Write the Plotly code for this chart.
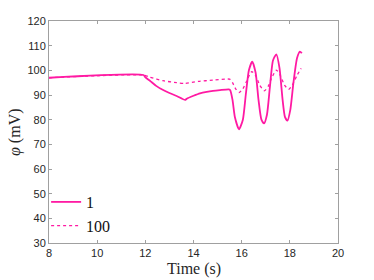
import plotly.graph_objects as go

# Series "1" (solid)
t1 = [8.0, 11.92, 12.0, 12.19, 12.45, 12.74, 13.0, 13.3, 13.65, 13.72, 14.0, 14.27, 14.55, 14.81, 15.1, 15.47,
      15.52, 15.62, 15.72, 15.89, 16.05, 16.17, 16.30, 16.44, 16.58, 16.70, 16.82, 16.93, 17.05, 17.17, 17.30,
      17.44, 17.57, 17.70, 17.80, 17.90, 18.02, 18.15, 18.30, 18.42, 18.50]
v1 = [97.0, 98.1, 97.2, 95.8, 93.7, 92.0, 90.8, 89.6, 88.0, 88.5, 89.7, 90.7, 91.3, 91.7, 92.0, 92.3,
      92.0, 88.0, 81.0, 76.1, 80.0, 90.0, 100.0, 103.5, 99.0, 88.0, 80.0, 78.5, 82.0, 93.0, 104.0,
      106.5, 101.0, 88.0, 81.0, 79.6, 84.0, 95.0, 105.0, 107.6, 107.0]

# Series "100" (dotted)
t100 = [8.0, 11.92, 12.19, 12.74, 13.3, 13.65, 14.2, 14.8, 15.5, 15.62, 15.75, 15.89, 16.05, 16.2, 16.42,
        16.6, 16.75, 16.94, 17.1, 17.25, 17.44, 17.6, 17.78, 17.95, 18.1, 18.3, 18.47]
v100 = [97.0, 98.1, 97.2, 95.8, 95.0, 94.7, 95.5, 96.0, 96.4, 95.0, 92.5, 91.0, 92.5, 95.5, 99.5,
        97.5, 94.0, 91.7, 93.5, 97.0, 100.1, 98.0, 94.0, 92.3, 94.0, 98.0, 100.8]

names = ["1", "100"]
x_ticks = [8, 10, 12, 14, 16, 18, 20]
y_ticks = [30, 40, 50, 60, 70, 80, 90, 100, 110, 120]
x_title = "Time (s)"
y_title = "<i>φ</i> (mV)"

color = "#FF1AA3"
serif = "Liberation Serif, Times New Roman, serif"
fig = go.Figure()
fig.add_trace(go.Scatter(x=t1, y=v1, mode="lines", name=names[0],
                         line=dict(color=color, width=1.8, shape="spline", smoothing=0.6)))
fig.add_trace(go.Scatter(x=t100, y=v100, mode="lines", name=names[1],
                         line=dict(color=color, width=1.3, dash="dot", shape="spline", smoothing=0.6)))

axis_common = dict(showline=True, linecolor="#A0A0A0", linewidth=1, mirror="ticks",
                   ticks="inside", ticklen=3, tickcolor="#A0A0A0", showgrid=False, zeroline=False,
                   automargin=False,
                   tickfont=dict(family="Liberation Sans, Arial", size=11, color="#262626"))
fig.update_layout(
    width=374, height=280,
    margin=dict(l=49, r=36, t=21, b=37),
    paper_bgcolor="white", plot_bgcolor="white",
    xaxis=dict(range=[8, 20], tickvals=x_ticks, **axis_common),
    yaxis=dict(range=[30, 120], tickvals=y_ticks, **axis_common),
    legend=dict(x=-0.01, y=0.0, xanchor="left", yanchor="bottom", bgcolor="rgba(0,0,0,0)",
                font=dict(family=serif, size=16, color="#111111"), itemwidth=30,
                tracegroupgap=0),
    showlegend=True,
    annotations=[
        dict(text=x_title, x=0.5, y=0, xref="paper", yref="paper", xanchor="center", yanchor="top",
             yshift=-15, showarrow=False, font=dict(family=serif, size=16, color="#262626")),
        dict(text=y_title, x=0, y=0.5, xref="paper", yref="paper", xanchor="center", yanchor="middle",
             xshift=-34, textangle=-90, showarrow=False, font=dict(family=serif, size=16, color="#262626")),
    ],
)
fig.write_html("out.html", config={"displayModeBar": False},
               post_script="document.body.style.margin='0';")
